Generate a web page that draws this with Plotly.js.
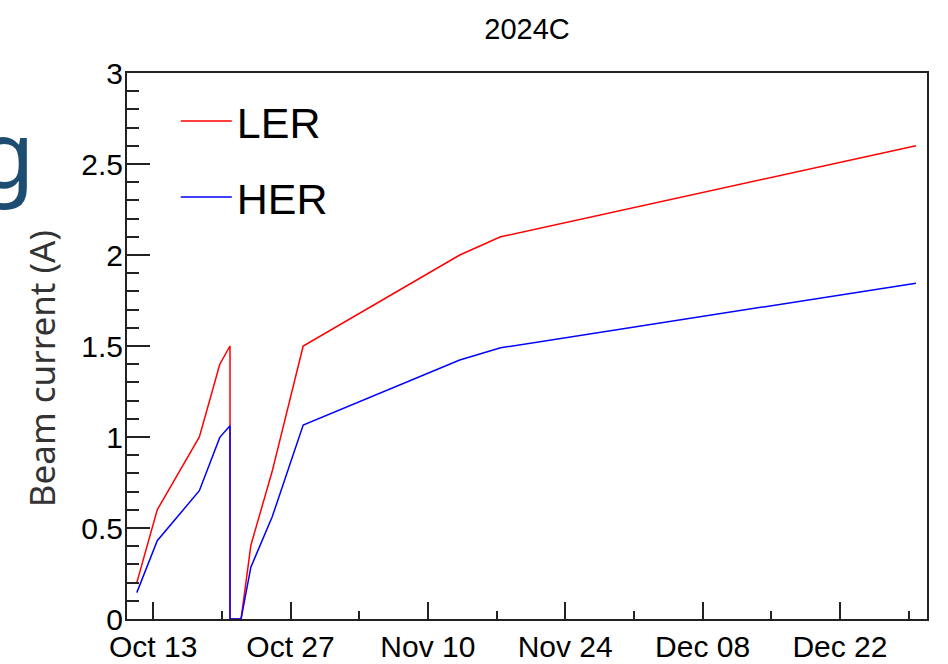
<!DOCTYPE html>
<html>
<head>
<meta charset="utf-8">
<script src="https://cdn.plot.ly/plotly-3.0.1.min.js"></script>
<style>html,body{margin:0;padding:0;background:#fff;}#chart{width:948px;height:664px;}</style>
</head>
<body>
<div id="chart"></div>
<script>
// Dates of the readings
const dates = [
  '2024-10-11 08:00', '2024-10-13 10:00', '2024-10-17 17:00', '2024-10-19 19:00',
  '2024-10-20 20:00', '2024-10-20 20:00', '2024-10-21 23:00', '2024-10-22 23:00',
  '2024-10-25 03:00', '2024-10-28 07:00', '2024-11-13 06:00', '2024-11-17 10:00',
  '2024-12-29 18:00'
];
// Beam currents (A)
const ler = [0.2, 0.6, 1.0, 1.4, 1.5, 0, 0, 0.405, 0.81, 1.5, 2.0, 2.1, 2.6];
const her = [0.145, 0.43, 0.705, 0.998, 1.062, 0, 0, 0.285, 0.56, 1.066, 1.423, 1.49, 1.845];
const seriesNames = ['LER', 'HER'];
const chartTitle = '2024C';
const yTitle = 'Beam current (A)';
const xRange = ['2024-10-10 08:00', '2024-12-30 21:00'];
const yRange = [0, 3];

const DAY = 86400000;
const tickFont = {family: 'Liberation Sans, Arial, sans-serif', size: 30, color: '#000'};

const traces = [
  {x: dates, y: ler, name: seriesNames[0], type: 'scatter', mode: 'lines',
   line: {color: '#ff0000', width: 1.5}, legendgroup: 'a'},
  {x: dates, y: her, name: seriesNames[1], type: 'scatter', mode: 'lines',
   line: {color: '#0000ff', width: 1.5}, legendgroup: 'b'}
];

const layout = {
  width: 948, height: 664,
  margin: {l: 127, r: 21, t: 73, b: 45, pad: 0},
  paper_bgcolor: '#fff', plot_bgcolor: '#fff',
  title: {text: chartTitle, font: {family: 'Liberation Sans, Arial, sans-serif', size: 29, color: '#000'},
          xref: 'paper', x: 0.5, xanchor: 'center', yref: 'container', y: 0.956, yanchor: 'middle'},
  showlegend: true,
  legend: {x: 0.061, y: 0.975, xanchor: 'left', yanchor: 'top', bgcolor: 'rgba(0,0,0,0)',
           font: {family: 'Liberation Sans, Arial, sans-serif', size: 43, color: '#000'},
           tracegroupgap: 17, itemwidth: 51},
  xaxis: {
    type: 'date', range: xRange, tick0: '2024-10-13', dtick: 14 * DAY, tickformat: '%b %d',
    ticks: 'inside', ticklen: 17, tickwidth: 2, tickcolor: '#222',
    minor: {tick0: '2024-10-13', dtick: 7 * DAY, ticks: 'inside', ticklen: 8, tickwidth: 2, tickcolor: '#222', showgrid: false},
    showline: true, linecolor: '#222', linewidth: 2, mirror: true,
    showgrid: false, zeroline: false, tickfont: tickFont, ticklabelstandoff: 0
  },
  yaxis: {
    range: yRange, dtick: 0.5, tick0: 0,
    ticks: 'inside', ticklen: 23, tickwidth: 2, tickcolor: '#222',
    minor: {dtick: 0.1, ticks: 'inside', ticklen: 12, tickwidth: 2, tickcolor: '#222', showgrid: false},
    showline: true, linecolor: '#222', linewidth: 2, mirror: true,
    showgrid: false, zeroline: false, tickfont: tickFont, ticklabelstandoff: -4
  },
  annotations: [
    {text: yTitle, xref: 'paper', yref: 'paper', x: -0.106, y: 0.458, xanchor: 'center', yanchor: 'middle',
     textangle: -90, showarrow: false, font: {family: 'Noto Sans, sans-serif', size: 35, color: '#333'}},
    {text: 'g', xref: 'paper', yref: 'paper', x: -0.113, y: 0.856, xanchor: 'right', yanchor: 'middle',
     showarrow: false, font: {family: 'Noto Sans, sans-serif', size: 94, color: '#1d4d70'}}
  ]
};

Plotly.newPlot('chart', traces, layout, {displayModeBar: false, staticPlot: true});
</script>
</body>
</html>
